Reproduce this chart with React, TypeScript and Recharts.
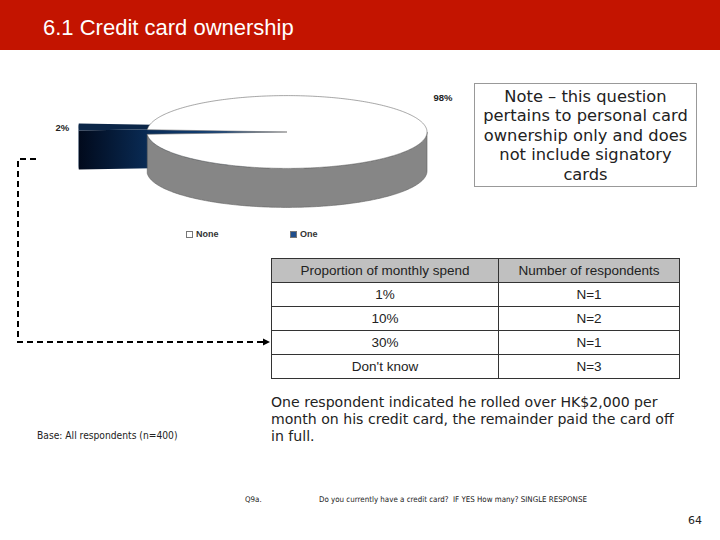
import React from "react";
import { PieChart, Pie, Cell, Legend } from "recharts";

const ownershipLabels = ["None", "One"];
const ownershipShares = [98, 2];
const ownershipColors = ["#ffffff", "#1f4e8c"];

const spendBands = ["1%", "10%", "30%", "Don't know"];
const respondentCounts = ["N=1", "N=2", "N=1", "N=3"];

const TILT = 0.26;
const DEPTH = 39;
const RAD = Math.PI / 180;

// the pulled-out slice is drawn longer and a bit higher, like the old 3D chart
const pulled: Record<string, { stretch: number; dy: number }> = { One: { stretch: 1.49, dy: -5 } };
const labelDy: Record<string, number> = { None: -35, One: -5 };

const pt = (cx: number, cy: number, r: number, a: number) => [
  cx + r * Math.cos(a * RAD),
  cy - r * TILT * Math.sin(a * RAD),
];

const arc = (cx: number, cy: number, r: number, a1: number, a2: number, dy = 0) => {
  const n = Math.max(2, Math.ceil(Math.abs(a2 - a1)));
  const out: string[] = [];
  for (let i = 0; i <= n; i++) {
    const [x, y] = pt(cx, cy, r, a1 + ((a2 - a1) * i) / n);
    out.push(`${x.toFixed(2)},${(y + dy).toFixed(2)}`);
  }
  return out;
};

const Slice3D = (props: any) => {
  const { cx, cy, outerRadius, startAngle, endAngle, fill } = props;
  const name = props.payload?.name ?? props.name;
  const p = pulled[name];
  const r = outerRadius * (p ? p.stretch : 1);
  const y0 = cy + (p ? p.dy : 0);
  const a1 = Math.min(startAngle, endAngle);
  const a2 = Math.max(startAngle, endAngle);
  const sideFill = p ? "url(#oneSide)" : "#868686";
  const parts: React.ReactNode[] = [];

  if (p && Math.cos(a2 * RAD) < 0) {
    const [x, y] = pt(cx, y0, r, a2);
    parts.push(
      <path key="cut" d={`M${cx},${y0} L${x},${y} L${x},${y + DEPTH} L${cx},${y0 + DEPTH} Z`} fill={sideFill} />
    );
  }
  for (let k = -1; k <= 2; k++) {
    const f1 = Math.max(a1, 180 + 360 * k);
    const f2 = Math.min(a2, 360 + 360 * k);
    if (f2 > f1) {
      const top = arc(cx, y0, r, f1, f2);
      const bottom = arc(cx, y0, r, f2, f1, DEPTH);
      parts.push(
        <path
          key={`wall${k}`}
          d={`M${top.join(" L")} L${bottom.join(" L")} Z`}
          fill={sideFill}
          stroke={p ? "none" : "#5f5f5f"}
          strokeWidth={0.6}
        />
      );
    }
  }
  parts.push(
    <path
      key="top"
      d={`M${cx},${y0} L${arc(cx, y0, r, a1, a2).join(" L")} Z`}
      fill={p ? "#0b2648" : fill}
      stroke={p ? "none" : "#6b6b6b"}
      strokeWidth={0.6}
    />
  );
  return <g>{parts}</g>;
};

const renderLabel = (props: any) => {
  const { cx, cy, outerRadius, midAngle, value } = props;
  const name = props.payload?.name ?? props.name;
  const p = pulled[name];
  const r = outerRadius * (p ? p.stretch : 1) + 16;
  const x = cx + r * Math.cos(midAngle * RAD);
  return (
    <text
      x={x}
      y={cy + (labelDy[name] ?? 0)}
      textAnchor="middle"
      dominantBaseline="central"
      fontFamily="Liberation Sans, Arial, sans-serif"
      fontWeight="bold"
      fontSize={9.5}
      fill="#222"
    >
      {value}%
    </text>
  );
};

const LegendBox = (props: any) => {
  const items = [...(props.payload ?? [])].sort(
    (a: any, b: any) => ownershipLabels.indexOf(a.value) - ownershipLabels.indexOf(b.value)
  );
  return (
    <div style={{ display: "flex" }}>
      {items.map((it: any) => (
        <div key={it.value} style={{ width: 104, display: "flex", alignItems: "center" }}>
          <span
            style={{
              width: 7,
              height: 7,
              background: it.color,
              border: "1px solid #777",
              boxSizing: "border-box",
              marginRight: 3,
            }}
          />
          <span style={{ fontFamily: "Liberation Sans, Arial, sans-serif", fontWeight: "bold", fontSize: 9, color: "#333" }}>
            {it.value}
          </span>
        </div>
      ))}
    </div>
  );
};

const pieData = ownershipLabels
  .map((name, i) => ({ name, value: ownershipShares[i], color: ownershipColors[i] }))
  .reverse();
const pieTotal = ownershipShares.reduce((s, v) => s + v, 0);
const pieStart = 180 - (pieData[0].value / pieTotal) * 180;

const cellStyle: React.CSSProperties = {
  border: "1px solid #333",
  textAlign: "center",
  padding: 0,
  height: 23,
};

export default function App() {
  return (
    <div style={{ position: "absolute", left: 0, top: 0, width: 720, height: 540, background: "#fff", overflow: "hidden" }}>
      <div style={{ position: "absolute", left: 0, top: 0, width: 720, height: 50, background: "#c31400" }}>
        <div
          style={{
            position: "absolute",
            left: 43,
            top: 15,
            color: "#fff",
            fontFamily: "Liberation Sans, Arial, sans-serif",
            fontSize: 22,
            whiteSpace: "nowrap",
          }}
        >
          6.1 Credit card ownership
        </div>
      </div>

      <div style={{ position: "absolute", left: 0, top: 50 }}>
        <PieChart width={470} height={200}>
          <defs>
            <linearGradient id="oneSide" x1="0" y1="0" x2="1" y2="0">
              <stop offset="0%" stopColor="#010a1c" />
              <stop offset="35%" stopColor="#0a2d58" />
              <stop offset="70%" stopColor="#13427a" />
              <stop offset="100%" stopColor="#0b2a52" />
            </linearGradient>
          </defs>
          <Pie
            data={pieData}
            dataKey="value"
            nameKey="name"
            cx={282}
            cy={77}
            outerRadius={140}
            startAngle={pieStart}
            endAngle={pieStart + 360}
            shape={Slice3D}
            activeShape={Slice3D}
            inactiveShape={Slice3D}
            label={renderLabel}
            labelLine={false}
            stroke="none"
            isAnimationActive={false}
          >
            {pieData.map((d) => (
              <Cell key={d.name} fill={d.color} />
            ))}
          </Pie>
          <Legend content={LegendBox} wrapperStyle={{ left: 186, top: 179, width: 220 }} />
        </PieChart>
      </div>

      <div
        style={{
          position: "absolute",
          left: 474,
          top: 83,
          width: 223,
          height: 104,
          boxSizing: "border-box",
          border: "1px solid #999",
          paddingTop: 3,
          textAlign: "center",
          fontFamily: "DejaVu Sans, Verdana, sans-serif",
          fontSize: 16.3,
          lineHeight: "19.4px",
          color: "#222",
          whiteSpace: "nowrap",
        }}
      >
        Note – this question
        <br />
        pertains to personal card
        <br />
        ownership only and does
        <br />
        not include signatory
        <br />
        cards
      </div>

      <svg width={720} height={540} style={{ position: "absolute", left: 0, top: 0 }}>
        <path d="M36,159 H18 V342 H264" fill="none" stroke="#000" strokeWidth={2} strokeDasharray="6 4" />
        <path d="M263,338.5 L270,342 L263,345.5 Z" fill="#000" />
      </svg>

      <table
        style={{
          position: "absolute",
          left: 271,
          top: 258,
          width: 409,
          borderCollapse: "collapse",
          fontFamily: "Liberation Sans, Arial, sans-serif",
          fontSize: 13.5,
          color: "#222",
        }}
      >
        <tbody>
          <tr style={{ background: "#c0c0c0" }}>
            <td style={{ ...cellStyle, width: 226 }}>Proportion of monthly spend</td>
            <td style={cellStyle}>Number of respondents</td>
          </tr>
          {spendBands.map((b, i) => (
            <tr key={b}>
              <td style={cellStyle}>{b}</td>
              <td style={cellStyle}>{respondentCounts[i]}</td>
            </tr>
          ))}
        </tbody>
      </table>

      <div
        style={{
          position: "absolute",
          left: 271,
          top: 394,
          fontFamily: "DejaVu Sans, Verdana, sans-serif",
          fontSize: 14.1,
          lineHeight: "17px",
          color: "#222",
          whiteSpace: "nowrap",
        }}
      >
        One respondent indicated he rolled over HK$2,000 per
        <br />
        month on his credit card, the remainder paid the card off
        <br />
        in full.
      </div>

      <div
        style={{
          position: "absolute",
          left: 37,
          top: 430,
          fontFamily: "DejaVu Sans Condensed, DejaVu Sans, sans-serif",
          fontSize: 10.2,
          color: "#222",
          whiteSpace: "nowrap",
        }}
      >
        Base: All respondents (n=400)
      </div>

      <div
        style={{
          position: "absolute",
          left: 245,
          top: 495,
          fontFamily: "DejaVu Sans Condensed, DejaVu Sans, sans-serif",
          fontSize: 7.9,
          color: "#222",
          whiteSpace: "nowrap",
        }}
      >
        Q9a.
      </div>
      <div
        style={{
          position: "absolute",
          left: 319,
          top: 495,
          fontFamily: "DejaVu Sans Condensed, DejaVu Sans, sans-serif",
          fontSize: 7.9,
          color: "#222",
          whiteSpace: "nowrap",
        }}
      >
        Do you currently have a credit card?&nbsp; IF YES How many? SINGLE RESPONSE
      </div>
      <div
        style={{
          position: "absolute",
          left: 688,
          top: 514,
          fontFamily: "DejaVu Sans, Verdana, sans-serif",
          fontSize: 11,
          color: "#222",
        }}
      >
        64
      </div>
    </div>
  );
}
